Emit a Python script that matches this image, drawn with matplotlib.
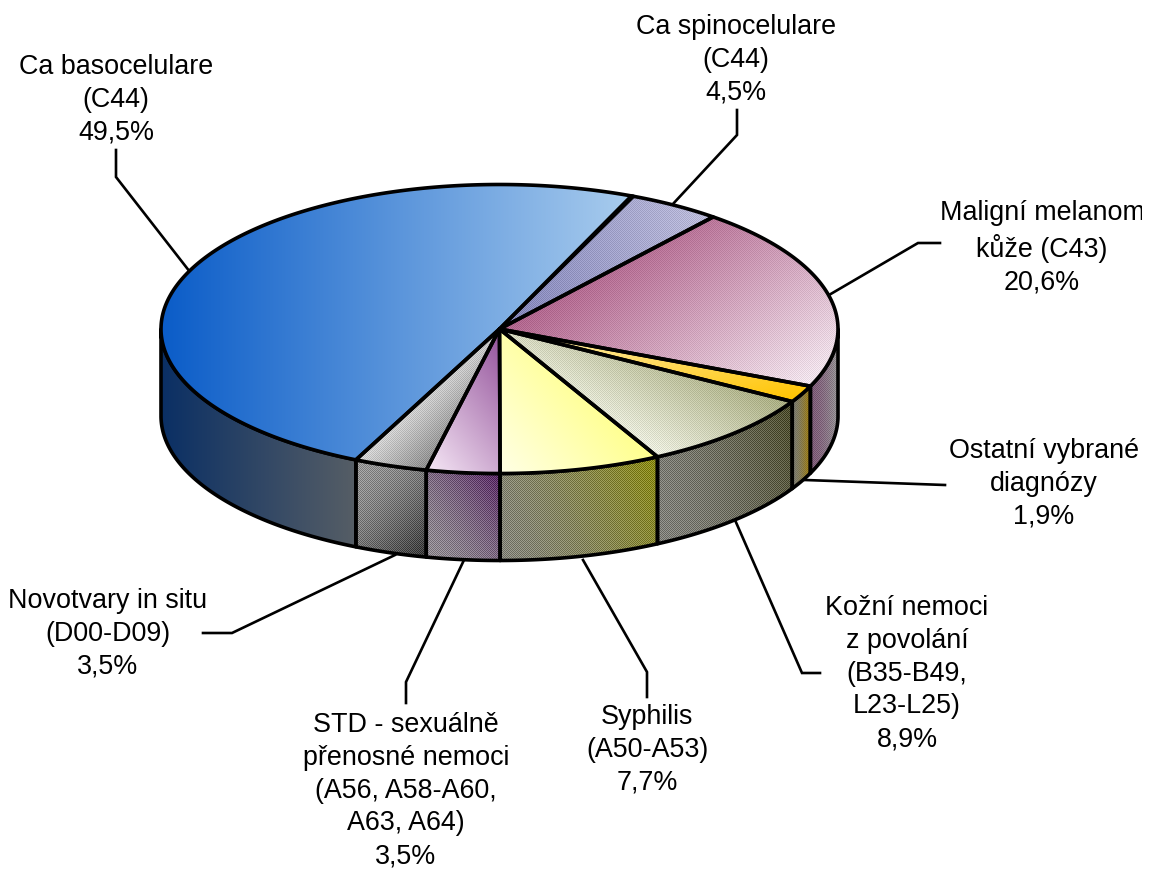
import numpy as np
import matplotlib
matplotlib.use("Agg")
import matplotlib.pyplot as plt
from matplotlib.patches import Polygon, Rectangle
from matplotlib.colors import to_rgb

plt.rcParams['font.family'] = ['Liberation Sans', 'DejaVu Sans']

# data, counter-clockwise from the start angle
categories = ["Ca basocelulare", "Novotvary in situ", "STD", "Syphilis",
              "Kožní nemoci", "Ostatní vybrané", "Maligní melanom", "Ca spinocelulare"]
values = [49.5, 3.5, 3.5, 7.7, 8.9, 1.9, 20.6, 4.5]
labels = ["Ca basocelulare\n(C44)\n49,5%",
          "Novotvary in situ\n(D00-D09)\n3,5%",
          "STD - sexuálně\npřenosné nemoci\n(A56, A58-A60,\nA63, A64)\n3,5%",
          "Syphilis\n(A50-A53)\n7,7%",
          "Kožní nemoci\nz povolání\n(B35-B49,\nL23-L25)\n8,9%",
          "Ostatní vybrané\ndiagnózy\n1,9%",
          "Maligní melanom\nkůže (C43)\n20,6%",
          "Ca spinocelulare\n(C44)\n4,5%"]

# style: (colour from, colour to, direction x, direction y, dither strength)
top_styles = [("#0a5cc8", "#aacdee", 1, 0, 0),
              ("#d6d6d6", "#8c8c8c", 1, 1.0, .06),
              ("#f6e8f6", "#93519a", 1, -.75, 0),
              ("#ffffe6", "#ffff8c", 1, -.8, 0),
              ("#eceee0", "#a8ac80", .55, -1, .05),
              ("#fff2c0", "#ffc400", .25, 1, 0),
              ("#b0648c", "#f2e6ee", .7, 1, .04),
              ("#8284b8", "#bcbcda", 1, -.2, .05)]
side_styles = [("#0a2f64", "#565e66", 1, 0, 0),
               ("#969696", "#383838", 1, 1, .10),
               ("#8f8a90", "#5a2a66", 1, -.8, .10),
               ("#85857a", "#8a8a14", 1, -.5, .10),
               ("#80807a", "#4c4c2c", 1, -.4, .10),
               ("#7a7a70", "#a07c08", 1, 0, .04),
               ("#7e5c78", "#949494", 1, 0, .06),
               ("#808080", "#808080", 1, 0, 0)]

START = 66.7
CX, CY, RX, RY, DEPTH = 499.5, 329.0, 338.5, 144.5, 87.0
LW = 2.6

# layout of labels: text centre, first-line top, leader path
label_xy = [(116, 54), (108, 588), (406, 712), (647, 704),
            (907, 595), (1044, 438), (1042, 200), (736, 14)]
leaders = [[(116, 150), (116, 177), (190, 272)],
           [(203, 633), (232, 633), (395, 555)],
           [(406, 703), (406, 682), (464, 560)],
           [(647, 697), (647, 672), (583, 560)],
           [(820, 673), (802, 673), (735, 520)],
           [(945, 485), (805, 480)],
           [(940, 243), (918, 243), (829, 295)],
           [(737, 110), (737, 135), (672, 205)]]

fig = plt.figure(figsize=(11.52, 8.69), dpi=100)
ax = fig.add_axes([0, 0, 1, 1])
ax.set_axis_off()


def arc(a, b, dy=0.0):
    t = np.radians(np.linspace(a, b, max(int(abs(b - a) * 2), 2)))
    return np.column_stack([CX + RX * np.cos(t), CY - RY * np.sin(t) + dy])


def fill_gradient(pts, style, z, gamma=1.0):
    c0, c1, dx, dy, dith = style
    x0, y0 = np.floor(pts.min(axis=0)).astype(int)
    x1, y1 = np.ceil(pts.max(axis=0)).astype(int)
    xx, yy = np.meshgrid(np.arange(x0, x1) + .5, np.arange(y0, y1) + .5)
    proj = pts[:, 0] * dx + pts[:, 1] * dy
    t = np.clip((xx * dx + yy * dy - proj.min()) / (proj.max() - proj.min()), 0, 1) ** gamma
    a, b = np.array(to_rgb(c0)), np.array(to_rgb(c1))
    img = a + (b - a) * t[..., None]
    if dith:
        pat = ((xx.astype(int) + yy.astype(int)) % 2) * 2 - 1
        img = np.clip(img + dith * pat[..., None], 0, 1)
    patch = Polygon(pts, closed=True, transform=ax.transData, fc='none', ec='none')
    ax.add_patch(patch)
    im = ax.imshow(img, extent=(x0, x1, y1, y0), origin='upper', aspect='auto',
                   interpolation='nearest', zorder=z)
    im.set_clip_path(patch)


edges = START + np.concatenate([[0], np.cumsum(values)]) * 3.6
for i in range(len(values)):
    a, b = edges[i], edges[i + 1]
    # visible outer wall: lower half of the ellipse
    for off in (0, 360):
        s, e = max(a - off, 180), min(b - off, 360)
        if e > s:
            pts = np.vstack([arc(s, e), arc(e, s, DEPTH)])
            fill_gradient(pts, side_styles[i], 1, gamma=1.6 if i else 1.0)
            ax.add_patch(Polygon(pts, closed=True, fc='none', ec='black', lw=LW,
                                 joinstyle='round', zorder=2))

for i in range(len(values)):
    a, b = edges[i], edges[i + 1]
    pts = np.vstack([[CX, CY], arc(a, b)])
    fill_gradient(pts, top_styles[i], 3)
    ax.add_patch(Polygon(pts, closed=True, fc='none', ec='black', lw=LW,
                         joinstyle='round', zorder=4))

for path in leaders:
    p = np.array(path)
    ax.plot(p[:, 0], p[:, 1], color='black', lw=1.9, solid_joinstyle='miter', zorder=0.5)

for name, txt, (x, y) in zip(categories, labels, label_xy):
    t = ax.text(x, y, txt, ha='center', va='top', fontsize=19.4, linespacing=1.34,
                color='black', zorder=6)
    if name == "Maligní melanom":
        t.set_clip_path(Rectangle((0, 0), 1142, 869, transform=ax.transData))
        t.set_clip_on(True)

ax.set_xlim(0, 1152)
ax.set_ylim(869, 0)
fig.savefig("out.png", dpi=100, facecolor='white')
